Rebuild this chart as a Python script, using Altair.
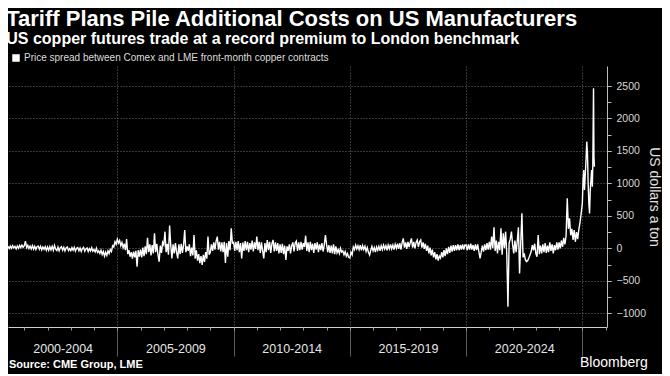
import altair as alt
import pandas as pd

title_text = "Tariff Plans Pile Additional Costs on US Manufacturers"
subtitle_text = "US copper futures trade at a record premium to London benchmark"
series_name = "Price spread between Comex and LME front-month copper contracts"
y_title = "US dollars a ton"
source_text = "Source: CME Group, LME"
brand_text = "Bloomberg"

period_labels = ["2000-2004", "2005-2009", "2010-2014", "2015-2019", "2020-2024"]
period_centers = [2002.65, 2007.5, 2012.5, 2017.5, 2022.5]
period_bounds = [2005, 2010, 2015, 2020, 2025]
year_ticks = [2001, 2002, 2003, 2004, 2005, 2006, 2007, 2008, 2009, 2010, 2011, 2012, 2013,
              2014, 2015, 2016, 2017, 2018, 2019, 2020, 2021, 2022, 2023, 2024, 2025, 2026]
y_labels = [-1000, -500, 0, 500, 1000, 1500, 2000, 2500]
y_minor = [-1000, -750, -500, -250, 0, 250, 500, 750, 1000, 1250, 1500, 1750, 2000, 2250, 2500]
x_domain = [2000.3, 2026.06]
y_domain = [-1213, 2809]

# spread, US$/t, sampled every 1/20 year (2000 series starts at 2000.30)
spread_2000 = [30, -5, 35, 0, 40, 5, 30, -10, 35, 0, 45, 10, 50, 15]
spread_2001 = [40, 110, 10, 45, -5, 35, -10, 40, -15, 30, -20, 25, 35, -15, 30, -25, 20, -15, 25, -30]
spread_2002 = [20, -30, 25, -25, 30, -30, 45, -15, -35, 20, -40, 10, 25, -30, 15, -40, 5, 20, -35, -5]
spread_2003 = [-35, 10, -30, 15, -45, 0, 10, -40, 5, -50, -5, 15, -45, -10, 5, -50, -5, -40, 10, -45]
spread_2004 = [-20, -55, 0, -65, -40, -80, -30, -95, -50, -120, -60, -110, -40, -80, -20, -50, 40, 20, 100, 60]
spread_2005 = [140, 80, 120, 40, 90, 10, 70, -30, 143, -90, -30, -130, -60, -160, -50, -140, -40, -283, -30, -130]
spread_2006 = [-20, -140, 10, -120, 30, -90, 163, -60, 60, -110, 50, -80, 230, -60, 70, -100, -207, 40, -70, 90]
spread_2007 = [50, 256, -60, 70, -100, 350, 40, -155, 60, -80, 80, -60, -155, 60, -90, 70, -70, 50, 282, -60]
spread_2008 = [30, -40, 60, -120, 10, -110, 205, -160, -30, -190, -90, -230, -120, -258, -100, -210, -60, -160, 180, -100]
spread_2009 = [-60, 60, -40, 90, -20, 110, 180, -20, 100, -50, 90, -60, 100, -225, 80, -130, 110, -30, 307, 80]
spread_2010 = [90, -40, 100, -30, 110, -60, 80, -155, 90, -40, 110, -30, 100, -60, 80, -20, 120, -50, 90, -10]
spread_2011 = [179, -30, 100, -70, 90, -40, -155, 80, -60, 128, -30, 100, -70, 70, 130, -50, 90, -40, 80, -80]
spread_2012 = [60, -70, 70, -90, 40, -181, 30, -40, 60, -80, 40, 90, -50, 80, 110, -40, 90, -30, 100, -20]
spread_2013 = [80, 20, 194, -40, 90, -60, 100, -30, 70, -70, 80, -20, 90, -60, 60, -30, 80, -50, 50, 204]
spread_2014 = [60, -60, 50, -70, 40, -80, 60, -90, 30, -70, -20, -80, 0, -60, -40, -100, -50, -120, -80, -140]
spread_2015 = [-150, -60, -100, 20, -20, 50, -10, 40, -20, 50, -30, 40, -20, 30, -50, 10, -60, -104, -30, 30]
spread_2016 = [-40, 10, -60, 20, -30, 30, -40, 40, -20, 50, -10, 40, -30, 50, -10, 60, -10, 50, -20, 60]
spread_2017 = [0, 70, -10, 80, -20, 90, 153, 10, 90, -10, 100, 20, 90, 153, 10, 100, 0, 90, 128, 20]
spread_2018 = [100, 128, 10, 90, -10, 70, -40, 40, -80, 10, -110, -20, -140, -60, -170, -90, -190, -120, -150, -60]
spread_2019 = [-140, -30, -120, 0, -90, 20, -70, 40, -50, 50, -40, 50, -30, 60, -30, 50, -20, 60, -20, 50]
spread_2020 = [50, -30, 60, -20, 70, -20, 50, -40, 60, -30, 60, -50, -155, -60, 40, -50, 60, -30, 80, -20]
spread_2021 = [100, -20, 179, 0, 322, -40, 120, -80, 100, -30, 307, -100, 230, 0, 256, -80, -901, 80, 140, 256]
spread_2022 = [60, -78, 120, -60, 100, 322, -387, 70, 538, -140, -80, -180, -207, -190, -150, -100, -50, 50, -30, 70]
spread_2023 = [-80, -130, 205, -90, 40, -80, 60, -60, 80, -70, 40, -60, 90, -40, 60, -80, 50, -30, 90, -20]
spread_2024 = [90, 0, 120, 20, 160, 60, 190, 769, 300, 461, 200, 300, 130, 280, 100, 250, 140, 290, 400, 540]
dates_2025 = [2025.00, 2025.03, 2025.06, 2025.09, 2025.12, 2025.15, 2025.19, 2025.22, 2025.25, 2025.28,
              2025.31, 2025.34, 2025.37, 2025.40, 2025.43, 2025.45, 2025.48, 2025.50, 2025.52]
spread_2025 = [700, 1050, 1206, 900, 1100, 1300, 1643, 1463, 1000, 692,
               538, 900, 1050, 1206, 950, 1308, 2465, 1400, 1257]

yearly = [
    (2000, spread_2000), (2001, spread_2001), (2002, spread_2002), (2003, spread_2003),
    (2004, spread_2004), (2005, spread_2005), (2006, spread_2006), (2007, spread_2007),
    (2008, spread_2008), (2009, spread_2009), (2010, spread_2010), (2011, spread_2011),
    (2012, spread_2012), (2013, spread_2013), (2014, spread_2014), (2015, spread_2015),
    (2016, spread_2016), (2017, spread_2017), (2018, spread_2018), (2019, spread_2019),
    (2020, spread_2020), (2021, spread_2021), (2022, spread_2022), (2023, spread_2023),
    (2024, spread_2024),
]
rows = []
for yr, vals in yearly:
    n = len(vals)
    for i, v in enumerate(vals):
        rows.append({"year": yr + (20 - n + i) / 20.0, "spread": v, "series": series_name})
for d, v in zip(dates_2025, spread_2025):
    rows.append({"year": d, "spread": v, "series": series_name})
df = pd.DataFrame(rows)

FONT = "Liberation Sans"
xs = alt.Scale(domain=x_domain, nice=False, zero=False)
ys = alt.Scale(domain=y_domain, nice=False, zero=False)

label_expr = ""
for b, lab in zip(period_bounds, period_labels):
    label_expr += f"datum.value < {b} ? '{lab}' : "
label_expr += "''"

line = alt.Chart(df).mark_line(strokeWidth=1.4, clip=True).encode(
    x=alt.X("year:Q", scale=xs, title=None,
            axis=alt.Axis(values=period_bounds, labels=False, grid=True, gridDash=[1, 2],
                          gridColor="#6a6a6a", gridWidth=1, tickSize=29, tickColor="#5c5c5c",
                          domain=True, domainColor="#d0d0d0", domainWidth=1, orient="bottom")),
    y=alt.Y("spread:Q", scale=ys, title=y_title,
            axis=alt.Axis(orient="right", values=y_labels, format="d", grid=True, gridDash=[1, 2],
                          gridColor="#6a6a6a", tickSize=4, tickColor="#bbbbbb",
                          domainColor="#bbbbbb", labelColor="#d8d8d8", labelFont=FONT,
                          labelFontSize=10.5, labelPadding=5, titleColor="#e0e0e0",
                          titleFont=FONT, titleFontSize=14, titleFontWeight="normal",
                          titlePadding=1, titleAngle=90)),
    color=alt.Color("series:N", scale=alt.Scale(range=["#ffffff"]),
                    legend=alt.Legend(orient="none", legendX=3, legendY=-13, title=None,
                                      symbolType="square", symbolSize=36,
                                      symbolFillColor="#ffffff", symbolStrokeColor="#ffffff",
                                      labelColor="#dddddd", labelFont=FONT, labelFontSize=10,
                                      labelOffset=3, labelLimit=600)),
)

tick_df = pd.DataFrame({"year": [x_domain[0]], "spread": [0]})
year_axis = alt.Chart(tick_df).mark_point(opacity=0).encode(
    x=alt.X("year:Q", scale=xs, title=None,
            axis=alt.Axis(values=year_ticks, labels=False, grid=False, domain=False,
                          tickSize=3, tickColor="#999999", orient="bottom")),
    y=alt.Y("spread:Q", scale=ys, axis=None),
)
period_axis = alt.Chart(tick_df).mark_point(opacity=0).encode(
    x=alt.X("year:Q", scale=xs, title=None,
            axis=alt.Axis(values=period_centers, labelExpr=label_expr, grid=False, domain=False,
                          tickSize=0, tickOpacity=0, labelPadding=15, labelColor="#e6e6e6",
                          labelFont=FONT, labelFontSize=12.5, orient="bottom")),
    y=alt.Y("spread:Q", scale=ys, axis=None),
)
minor_y = alt.Chart(tick_df).mark_point(opacity=0).encode(
    x=alt.X("year:Q", scale=xs, axis=None),
    y=alt.Y("spread:Q", scale=ys, title=None,
            axis=alt.Axis(orient="right", values=y_minor, labels=False, grid=False,
                          domain=False, tickSize=4, tickColor="#bbbbbb")),
)

src = alt.Chart(pd.DataFrame({"t": [source_text]})).mark_text(
    align="left", baseline="middle", font=FONT, fontSize=11, fontWeight="bold", color="#ffffff"
).encode(text="t:N", x=alt.value(1), y=alt.value(299))
brand = alt.Chart(pd.DataFrame({"t": [brand_text]})).mark_text(
    align="left", baseline="middle", font=FONT, fontSize=14, fontWeight="normal", color="#ffffff"
).encode(text="t:N", x=alt.value(572), y=alt.value(297))

chart = alt.layer(line, year_axis, period_axis, minor_y, src, brand).resolve_axis(
    x="independent", y="independent"
).properties(
    width=599, height=261,
    autosize=alt.AutoSizeParams(type="none"),
    padding={"left": 0, "top": 58, "right": 55, "bottom": 47},
    background="#000000",
    title=alt.TitleParams(text=title_text, subtitle=subtitle_text, anchor="start",
                          font=FONT, fontSize=22, fontWeight="bold", color="#ffffff",
                          subtitleFont=FONT, subtitleFontSize=16, subtitleFontWeight="bold",
                          subtitleColor="#ffffff", offset=5, subtitlePadding=0, limit=650, dx=1),
).configure_view(stroke=None)

chart.save("out.html", embed_options={"renderer": "svg", "actions": False})
